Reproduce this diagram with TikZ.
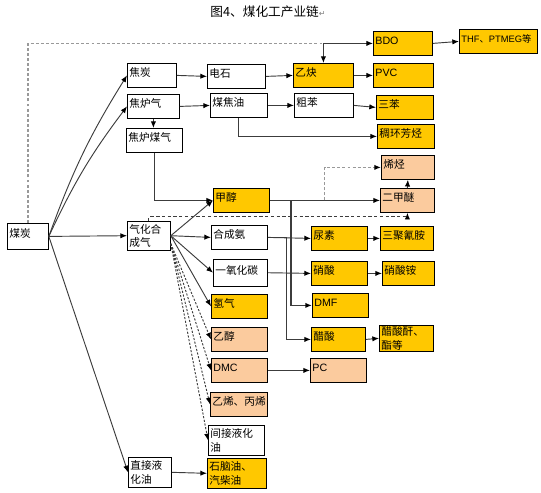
\documentclass[tikz,border=0pt]{standalone}
\usepackage{fontspec}
\setmainfont{Liberation Sans}
\newfontfamily\cn{Noto Sans CJK SC}
\newfontfamily\markfont{DejaVu Sans}
\usetikzlibrary{arrows.meta}
\definecolor{goldbox}{RGB}{255,200,0}
\definecolor{peachbox}{RGB}{251,203,158}
\definecolor{linegray}{RGB}{60,60,60}
\newcommand{\boxfont}{\fontsize{8}{10}\selectfont}

\begin{document}
\begin{tikzpicture}[
	x=0.75pt, y=-0.75pt,
	box/.style={draw=black, line width=0.6pt, anchor=north west, inner xsep=1.5pt, inner ysep=2.5pt, align=left, text width=#1*0.75pt-3pt, font=\cn\boxfont},
	block/.style={box=#1, text height=7.5pt, text depth=5.5pt},
	gold/.style={fill=goldbox},
	peach/.style={fill=peachbox},
	latin/.style={font=\boxfont},
	link/.style={draw=linegray, line width=0.7pt, -{Latex[length=5pt, width=4pt, color=black]}},
	graydash/.style={draw=gray!80, line width=0.9pt, dash pattern=on 2.2pt off 1.6pt},
	blackdash/.style={link, dash pattern=on 1.6pt off 1.2pt},
	darkdash/.style={link, dash pattern=on 2.5pt off 1.8pt}
]
\useasboundingbox (0,0) rectangle (541,492);

\node[font=\cn\fontsize{9.5}{11}\selectfont] (title) at (268,12) {图4、煤化工产业链{\markfont\color{gray}\fontsize{6}{6}\selectfont ↵}};

% left column
\node[block=41, minimum height=19.5pt] (coal) at (7,223) {煤炭};
\node[block=49] (coke) at (127,63) {焦炭};
\node[block=52] (ovengas) at (127,94) {焦炉气};
\node[block=56] (cokegas) at (126,128) {焦炉煤气};
\node[box=43, inner ysep=2pt] (syngas) at (127,221) {气化合\\成气};
\node[box=43] (dcl) at (128,457) {直接液\\化油};

% second column
\node[block=58] (carbide) at (207,64) {电石};
\node[block=57] (tar) at (210,93) {煤焦油};
\node[block=56, gold] (methanol) at (213,188) {甲醇};
\node[block=56] (ammonia) at (211,225) {合成氨};
\node[block=54, minimum height=20pt] (co) at (213,259) {一氧化碳};
\node[block=56, gold] (hydrogen) at (211,294) {氢气};
\node[block=56, peach] (ethanol) at (211,327) {乙醇};
\node[block=56, peach, latin] (dmc) at (211,358) {DMC};
\node[block=57, peach] (ethylene) at (210,392) {乙烯、丙烯};
\node[box=56] (icl) at (208,425) {间接液化\\油};
\node[box=59, gold] (naphtha) at (207,458) {石脑油、\\汽柴油};

% third column
\node[block=60, gold] (acetylene) at (293,63) {乙炔};
\node[block=59] (crude) at (294,93) {粗苯};
\node[block=56, gold] (urea) at (311,226) {尿素};
\node[block=56, gold] (nitric) at (311,261) {硝酸};
\node[block=56, gold, latin] (dmf) at (312,293) {DMF};
\node[block=54, gold] (acetic) at (311,327) {醋酸};
\node[block=56, peach, latin] (pc) at (310,358) {PC};

% right column
\node[block=59, gold, latin] (bdo) at (373,31) {BDO};
\node[block=78, gold, font=\fontsize{7}{9}\selectfont] (thf) at (459,29) {THF{\cn 、}PTMEG{\cn 等}};
\node[block=60, gold, latin] (pvc) at (373,63) {PVC};
\node[block=57, gold] (btx) at (376,95) {三苯};
\node[block=57, gold] (pah) at (377,124) {稠环芳烃};
\node[block=53, peach] (olefin) at (381,155) {烯烃};
\node[block=54, peach] (dme) at (380,188) {二甲醚};
\node[block=53, gold] (melamine) at (380,226) {三聚氰胺};
\node[block=52, gold] (ammnitrate) at (382,261) {硝酸铵};
\node[box=54, gold, inner ysep=1pt] (anhydride) at (379,325) {醋酸酐、\\酯等};

% coal
\draw[link] (coal.east) to[bend left=6] (coke.west);
\draw[link] (coal.east) to[bend left=6] (ovengas.west);
\draw[link] (coal.east) -- (syngas.west);
\draw[link] (coal.east) -- (dcl.west);
\coordinate (bdosplit) at (acetylene.north |- bdo.west);
\draw[graydash] (coal.north) |- (bdosplit);
\draw[link] (bdosplit) -- (bdo.west);
\draw[link] (bdosplit) -- (acetylene.north);

% coke and coke oven gas
\draw[link] (coke.east) -- (carbide.west);
\draw[link] (carbide.east) -- (acetylene.west);
\draw[link] (acetylene.east) -- (pvc.west);
\draw[link] (bdo.east) -- (thf.west);
\draw[link] (ovengas.east) -- (tar.west);
\draw[link] (ovengas.south) -- (ovengas.south |- cokegas.north);
\draw[link] (tar.east) -- (crude.west);
\draw[link] (crude.east) -- (btx.west);
\draw[link] (tar.south) |- (pah.west);
\draw[link] (cokegas.south) |- (methanol.west);

% syngas
\foreach \t in {methanol, ammonia, co, hydrogen}
	\draw[link] (syngas.east) -- (\t.west);
\foreach \t in {ethanol, dmc, ethylene, icl}
	\draw[blackdash] ([yshift=-6pt]syngas.east) -- (\t.west);
\draw[darkdash] (syngas.north) |- ([yshift=-3pt]dme.south) -- (dme.south);

% methanol
\draw[link] (methanol.east) -- (dme.west);
\draw[graydash, -{Latex[length=5pt, width=4pt, color=black]}] (methanol.east) ++(55,0) |- (olefin.west);
\draw[link] (dme.north) -- (olefin.south);
\draw[link, line width=1.2pt] (methanol.east) -- ++(21,0) |- (dmf.west);
\draw[link] (ammonia.east) -- (urea.west);
\draw[link] (ammonia.east) -- ++(19,0) |- (acetic.west);
\draw[link] (co.east) -- (nitric.west);

% products
\draw[link] (urea.east) -- (melamine.west);
\draw[link] (nitric.east) -- (ammnitrate.west);
\draw[link] (acetic.east) -- (anhydride.west);
\draw[link] (dmc.east) -- (pc.west);
\draw[link] (dcl.east) -- (naphtha.west);
\end{tikzpicture}
\end{document}
